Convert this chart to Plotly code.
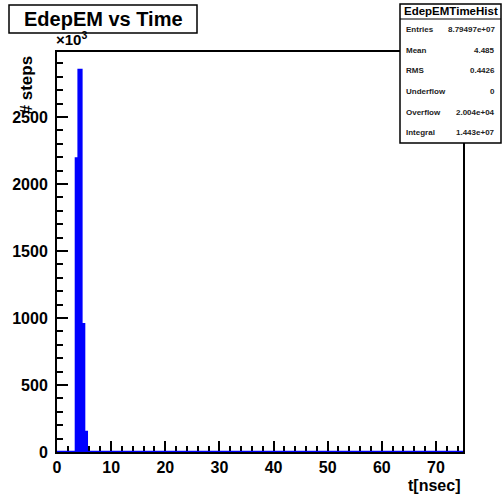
import plotly.graph_objects as go

# ---- data (counts in units of 10^3, bins of 0.5 ns) ----
bin_edges = [3.5, 4.0, 4.5, 5.0, 5.5]
counts = [2190, 2850, 953, 150]
x_range = [0, 75]
y_range = [0, 2985]

stats_title = "EdepEMTimeHist"
stats_labels = ["Entries", "Mean", "RMS", "Underflow", "Overflow", "Integral"]
stats_values = ["8.79497e+07", "4.485", "0.4426", "0", "2.004e+04", "1.443e+07"]

W, H = 503, 494
L, R, T, B = 57, 463, 52, 452  # frame in pixels


def px(x):
    return (x - L) / (R - L)


def py(y):
    return (B - y) / (B - T)


xs = [x_range[0]] + bin_edges + [x_range[1]]
ys = [0] + counts + [0, 0]

fig = go.Figure()
fig.add_trace(go.Scatter(
    x=xs, y=ys, mode="lines", line=dict(color="#0000ff", width=2.5, shape="hv"),
    fill="tozeroy", fillcolor="#0000ff", hoverinfo="skip", showlegend=False))

FONT = "Liberation Sans, Arial, Helvetica, sans-serif"

fig.update_layout(
    width=W, height=H,
    margin=dict(l=L, r=W - R, t=T, b=H - B, pad=0),
    paper_bgcolor="white", plot_bgcolor="white",
    showlegend=False,
    font=dict(family=FONT, color="black"),
    xaxis=dict(
        range=x_range, showgrid=False, zeroline=False,
        showline=True, mirror=True, linecolor="black", linewidth=2,
        ticks="inside", ticklen=11, tickwidth=1.5, tickcolor="black",
        tick0=0, dtick=10,
        minor=dict(dtick=2, ticks="inside", ticklen=6, tickwidth=1.5, tickcolor="black"),
        tickfont=dict(size=16, family=FONT, weight="bold"),
        layer="below traces",
    ),
    yaxis=dict(
        range=y_range, showgrid=False, zeroline=False,
        showline=True, mirror=True, linecolor="black", linewidth=2,
        ticks="inside", ticklen=11, tickwidth=1.5, tickcolor="black",
        tick0=0, dtick=500,
        minor=dict(dtick=100, ticks="inside", ticklen=6, tickwidth=1.5, tickcolor="black"),
        tickfont=dict(size=16, family=FONT, weight="bold"),
        ticklabelstandoff=4,
    ),
)

shapes = []
annotations = []

# title box
shapes.append(dict(type="rect", xref="paper", yref="paper",
                   x0=px(9), x1=px(197), y0=py(33), y1=py(5),
                   line=dict(color="black", width=1.5), fillcolor="white", layer="above"))
annotations.append(dict(xref="paper", yref="paper", x=px(103), y=py(19),
                        xanchor="center", yanchor="middle", showarrow=False,
                        text="<b>EdepEM vs Time</b>",
                        font=dict(size=20, family=FONT, color="black")))

# stats box
sb_l, sb_r, sb_t, sb_b, sb_h = 400, 501, 4, 143, 19
shapes.append(dict(type="rect", xref="paper", yref="paper",
                   x0=px(sb_l), x1=px(sb_r), y0=py(sb_b), y1=py(sb_t),
                   line=dict(color="black", width=1.5), fillcolor="white", layer="above"))
shapes.append(dict(type="line", xref="paper", yref="paper",
                   x0=px(sb_l), x1=px(sb_r), y0=py(sb_h), y1=py(sb_h),
                   line=dict(color="black", width=1.2), layer="above"))
annotations.append(dict(xref="paper", yref="paper", x=px((sb_l + sb_r) / 2), y=py(11.5),
                        xanchor="center", yanchor="middle", showarrow=False,
                        text="<b>" + stats_title + "</b>",
                        font=dict(size=11.5, family=FONT, color="black")))
row_h = (sb_b - sb_h) / len(stats_labels)
for i, (lab, val) in enumerate(zip(stats_labels, stats_values)):
    yc = sb_h + row_h * (i + 0.5)
    annotations.append(dict(xref="paper", yref="paper", x=px(sb_l + 4), y=py(yc),
                            xanchor="left", yanchor="middle", showarrow=False,
                            text="<b>" + lab + "</b>",
                            font=dict(size=8, family=FONT, color="#222")))
    annotations.append(dict(xref="paper", yref="paper", x=px(sb_r - 4), y=py(yc),
                            xanchor="right", yanchor="middle", showarrow=False,
                            text="<b>" + val + "</b>",
                            font=dict(size=8, family=FONT, color="#222")))

# exponent label
annotations.append(dict(xref="paper", yref="paper", x=px(54), y=py(50),
                        xanchor="left", yanchor="bottom", showarrow=False,
                        text="<b>×10<sup>3</sup></b>",
                        font=dict(size=15, family=FONT, color="black")))

# y-axis title
annotations.append(dict(xref="paper", yref="paper", x=px(26), y=py(54),
                        xanchor="center", yanchor="top", showarrow=False, textangle=-90,
                        text="<b># steps</b>",
                        font=dict(size=17, family=FONT, color="black")))

# x-axis title
annotations.append(dict(xref="paper", yref="paper", x=px(462), y=py(485),
                        xanchor="right", yanchor="middle", showarrow=False,
                        text="<b>t[nsec]</b>",
                        font=dict(size=16, family=FONT, color="black")))

fig.update_layout(shapes=shapes, annotations=annotations)
fig.write_html("out.html")
